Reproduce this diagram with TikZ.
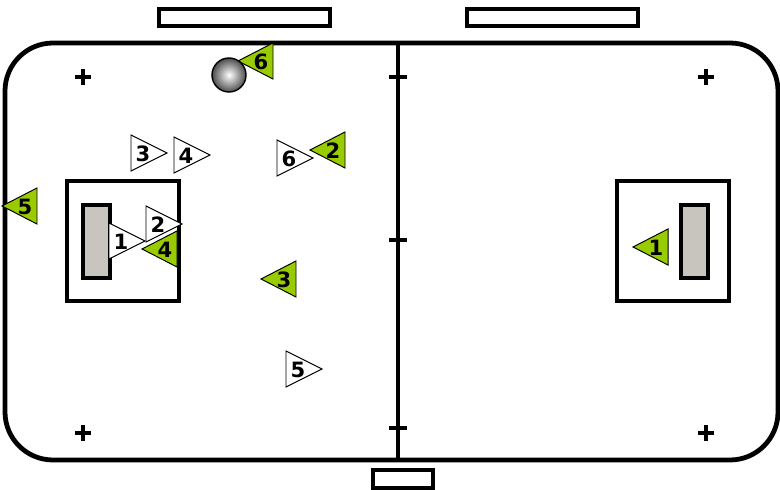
\documentclass[tikz,border=0pt]{standalone}
\usepackage{fontspec}
\setmainfont{DejaVu Sans}
\definecolor{teamgreen}{HTML}{99CC00}
\definecolor{goalgrey}{HTML}{C8C4BE}

\begin{document}
\begin{tikzpicture}[
  x=0.025cm,y=-0.025cm,
  every node/.style={font=\fontsize{15}{17}\selectfont\bfseries},
  board/.style={line width=3.4pt},
  midline/.style={line width=2.4pt},
  boxline/.style={line width=2.6pt},
  home/.style={fill=teamgreen,draw=black,line width=0.7pt},
  away/.style={fill=white,draw=black,line width=0.7pt},
  num/.style={inner sep=0pt},
  ballnode/.style={circle,draw=black,line width=1pt,shading=radial,
    inner color=white,outer color=black!70,minimum size=0.85cm,inner sep=0pt}
]
  \useasboundingbox (0,0) rectangle (780,490);

  % Benches and the table at the side.
  \draw[boxline] (159,9) rectangle (330,26);
  \draw[boxline] (467,9) rectangle (638,26);
  \draw[boxline] (373,470) rectangle (433,488);

  % Boards and the centre line.
  \draw[board,rounded corners=1.2cm] (5,43) rectangle (778,460);
  \draw[midline] (398,43) -- (398,460);
  \foreach \y in {77,240,428}
    \draw[midline] (389,\y) -- (407,\y);

  % Face-off points.
  \foreach \x/\y in {83/77,706/77,83/433,706/433}
    \draw[boxline] (\x-8,\y) -- (\x+8,\y) (\x,\y-8) -- (\x,\y+8);

  % Goal areas and goals.
  \draw[boxline] (67,181) rectangle (179,301);
  \draw[boxline,fill=goalgrey] (83,205) rectangle (110,278);
  \draw[boxline] (617,181) rectangle (729,301);
  \draw[boxline,fill=goalgrey] (681,205) rectangle (708,278);

  % Green team, facing left.
  \foreach \n/\x/\y in {6/238/61,2/310/150,5/2/206,4/142/249,3/261/279,1/633/247}{
    \draw[home] (\x,\y) -- ++(35,-18) -- ++(0,36) -- cycle;
    \node[num] (g\n) at (\x+23,\y+1) {\n};
  }

  % White team, facing right.
  \foreach \n/\x/\y in {6/313/158,3/167/153,4/210/155,1/145/241,2/182/224,5/322/369}{
    \draw[away] (\x,\y) -- ++(-36,-18) -- ++(0,36) -- cycle;
    \node[num] (w\n) at (\x-24,\y+1) {\n};
  }

  % Ball.
  \node[ballnode] (ball) at (229,75) {};
\end{tikzpicture}
\end{document}
